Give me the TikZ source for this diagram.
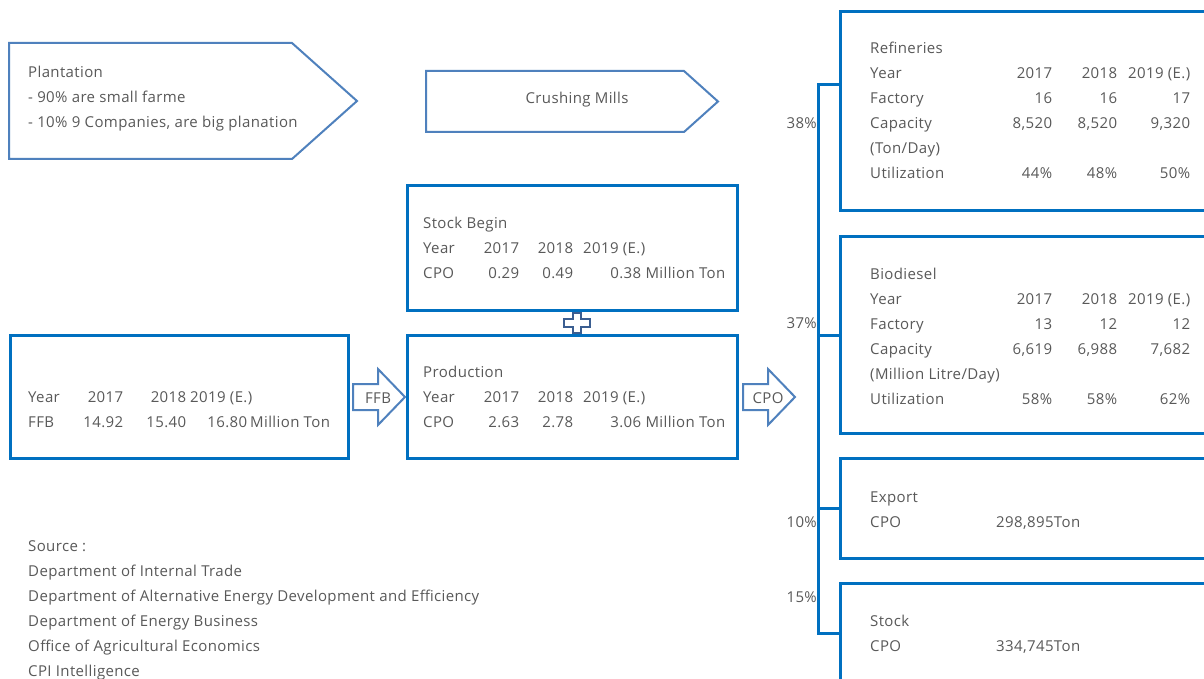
\documentclass[tikz,border=0pt]{standalone}
\usepackage{fontspec}
\setmainfont[LetterSpace=2.5]{Open Sans}
\usepackage{array}
\usepackage{xcolor}
\usepackage{tikz}
\usetikzlibrary{
  calc,
  positioning
}
\definecolor{boxBlue}{HTML}{0070C0}
\definecolor{shapeBlue}{HTML}{4F81BD}
\definecolor{plusBlue}{HTML}{3B5E91}
\definecolor{textGray}{HTML}{595959}

\newcolumntype{L}[1]{>{\raggedright\arraybackslash}p{#1}}
\newcolumntype{R}[1]{>{\raggedleft\arraybackslash}p{#1}}

% hollow block arrow: #1 tail point, #2 label name, #3 label
\newcommand{\fatarrow}[3]{%
  \draw[fat] ($(#1)+(0,-13)$) -- ++(25,0) -- ++(0,-15) -- ++(27,28)
    -- ++(-27,28) -- ++(0,-15) -- ++(-25,0) -- cycle;
  \node[txt, anchor=base] (#2) at ($(#1)+(25,6)$) {#3};
}

\begin{document}
\begin{tikzpicture}[
  x=1pt, y=-1pt,
  font=\fontsize{15}{25}\selectfont,
  box/.style={
    draw=boxBlue,
    line width=3pt,
    anchor=north west,
    inner sep=0pt
  },
  pent/.style={draw=shapeBlue, line width=2pt, line join=miter},
  fat/.style={draw=shapeBlue, line width=2pt, fill=white},
  txt/.style={text=textGray, inner sep=0pt, anchor=base west},
  pct/.style={txt, anchor=base east},
  bracket/.style={draw=boxBlue, line width=3pt},
  plus/.style={draw=plusBlue, line width=1.8pt, fill=white}
]
\fill[white] (0,0) rectangle (1204,679);
\useasboundingbox (0,0) rectangle (1204,679);
\clip (0,0) rectangle (1204,679);

% upstream
\draw[pent] (9,43) -- (292,43) -- (357,101) -- (292,159) -- (9,159) -- cycle;
\node[txt] (plantText) at (28,78) {%
  \begin{tabular}[t]{@{}l@{}}
  Plantation\\
  - 90\% are small farme\\
  - 10\% 9 Companies, are big planation
  \end{tabular}};

\draw[pent] (426,71) -- (684,71) -- (718,101.5) -- (684,132) -- (426,132) -- cycle;
\node[txt, anchor=base] (millsText) at (577,104) {Crushing Mills};

% boxes
\node[box, minimum width=330pt, minimum height=125pt] (stockBeginBox) at (406,184) {};
\node[box, minimum width=330pt, minimum height=123pt] (productionBox) at (406,334) {};
\node[box, minimum width=338pt, minimum height=123pt] (ffbBox) at (9,334) {};

\node[txt] (stockBeginText) at (423,228) {%
  \begin{tabular}[t]{@{}L{55pt}@{}R{41pt}@{}R{54pt}@{\hspace{10pt}}l@{}}
  \multicolumn{4}{@{}l@{}}{Stock Begin}\\
  Year & 2017 & 2018 & 2019 (E.)\\
  CPO & 0.29 & 0.49 & \makebox[58pt][r]{0.38} Million Ton
  \end{tabular}};

\node[txt] (productionText) at (423,377) {%
  \begin{tabular}[t]{@{}L{55pt}@{}R{41pt}@{}R{54pt}@{\hspace{10pt}}l@{}}
  \multicolumn{4}{@{}l@{}}{Production}\\
  Year & 2017 & 2018 & 2019 (E.)\\
  CPO & 2.63 & 2.78 & \makebox[58pt][r]{3.06} Million Ton
  \end{tabular}};

\node[txt] (ffbText) at (28,402) {%
  \begin{tabular}[t]{@{}L{50pt}@{}R{45pt}@{}R{63pt}@{\hspace{4pt}}l@{}}
  Year & 2017 & 2018 & 2019 (E.)\\
  FFB & 14.92 & 15.40 & \makebox[57pt][r]{16.80}\hspace{3pt}Million Ton
  \end{tabular}};

\coordinate (plusC) at ($(stockBeginBox.south)!0.5!(productionBox.north)+(4.5,0)$);
\draw[plus] (plusC) ++(-4,-10) -- ++(8,0) -- ++(0,6) -- ++(9,0) -- ++(0,8)
  -- ++(-9,0) -- ++(0,6) -- ++(-8,0) -- ++(0,-6) -- ++(-9,0) -- ++(0,-8)
  -- ++(9,0) -- cycle;

\coordinate (ffbTail) at ($(ffbBox.east)+(3,0)$);
\coordinate (cpoTail) at ($(productionBox.east)+(4,0)$);
\fatarrow{ffbTail}{ffbLabel}{FFB}
\fatarrow{cpoTail}{cpoLabel}{CPO}

% downstream
\node[box, minimum width=381pt, minimum height=199pt] (refBox) at (839,10) {};
\node[box, minimum width=381pt, minimum height=197pt] (bioBox) at (839,235) {};
\node[box, minimum width=381pt, minimum height=100pt] (exportBox) at (839,457) {};
\node[box, minimum width=381pt, minimum height=100pt] (stockOutBox) at (839,582) {};

\node[txt] (refText) at (870,54) {%
  \begin{tabular}[t]{@{}L{110pt}@{}R{72pt}@{}R{65pt}@{}R{73pt}@{}}
  Refineries\\
  Year & 2017 & 2018 & 2019 (E.)\\
  Factory & 16 & 16 & 17\\
  Capacity & 8,520 & 8,520 & 9,320\\
  (Ton/Day)\\
  Utilization & 44\% & 48\% & 50\%
  \end{tabular}};

\node[txt] (bioText) at (870,279) {%
  \begin{tabular}[t]{@{}L{110pt}@{}R{72pt}@{}R{65pt}@{}R{73pt}@{}}
  Biodiesel\\
  Year & 2017 & 2018 & 2019 (E.)\\
  Factory & 13 & 12 & 12\\
  Capacity & 6,619 & 6,988 & 7,682\\
  \multicolumn{2}{@{}l}{(Million Litre/Day)}\\
  Utilization & 58\% & 58\% & 62\%
  \end{tabular}};

\node[txt] (exportText) at (870,502) {%
  \begin{tabular}[t]{@{}L{126pt}@{}l@{}}
  Export\\
  CPO & 298,895Ton
  \end{tabular}};

\node[txt] (stockOutText) at (870,626) {%
  \begin{tabular}[t]{@{}L{126pt}@{}l@{}}
  Stock\\
  CPO & 334,745Ton
  \end{tabular}};

\node[pct] (refPct) at (817,129) {38\%};
\node[pct] (bioPct) at (817,328) {37\%};
\node[pct] (exportPct) at (817,527) {10\%};
\node[pct] (stockPct) at (817,602) {15\%};

\coordinate (brTop) at (818,85);
\draw[bracket] (refBox.west |- brTop) -- (brTop) |- (stockOutBox.west);
\draw[bracket] (bioBox.west) -- (bioBox.west -| brTop);
\draw[bracket] (exportBox.west) -- (exportBox.west -| brTop);

% sources
\node[txt] (sourceText) at (28,551) {%
  \begin{tabular}[t]{@{}l@{}}
  Source :\\
  Department of Internal Trade\\
  Department of Alternative Energy Development and Efficiency\\
  Department of Energy Business\\
  Office of Agricultural Economics\\
  CPI Intelligence
  \end{tabular}};

\end{tikzpicture}
\end{document}
